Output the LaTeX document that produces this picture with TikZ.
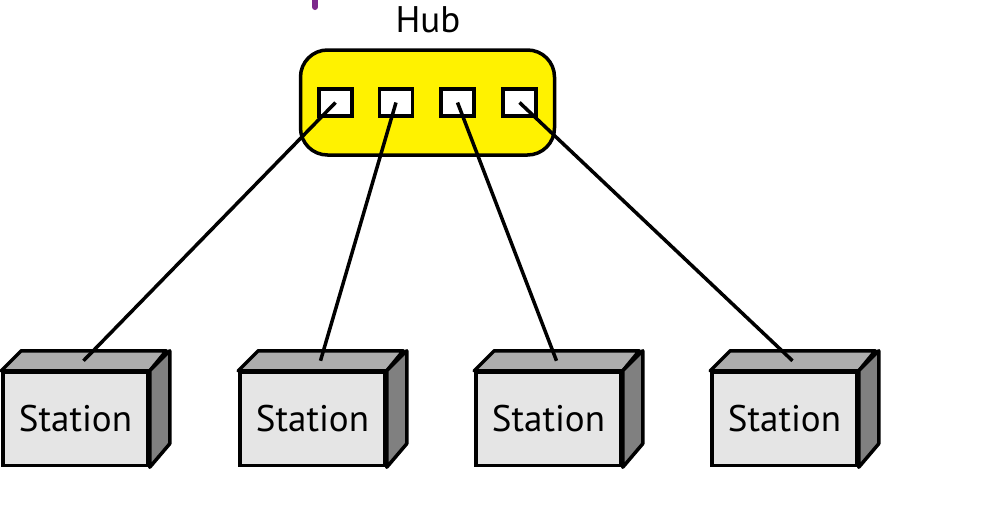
\documentclass[tikz,border=0pt]{standalone}
\usepackage{fontspec}
\setmainfont{PT Sans}
\usetikzlibrary{calc}
\begin{document}
\begin{tikzpicture}[x=1pt,y=-1pt,
  hubbox/.style={draw=black,line width=3.5pt,fill=yellow,rounded corners=27pt,minimum width=254pt,minimum height=105pt,inner sep=0pt},
  port/.style={draw=black,line width=3.5pt,fill=white,minimum width=33pt,minimum height=27pt,inner sep=0pt},
  front/.style={draw=black,line width=3.5pt,fill=black!10,minimum width=145pt,minimum height=93pt,inner sep=0pt,font=\fontsize{37}{40}\selectfont},
  topface/.style={draw=black,line width=3.5pt,fill=black!32,line join=round},
  sideface/.style={draw=black,line width=3.5pt,fill=black!50,line join=round},
  wire/.style={draw=black,line width=3.5pt},
  lbl/.style={font=\fontsize{37}{40}\selectfont,inner sep=0pt}
]
\useasboundingbox (0,0) rectangle (985,504);
\fill[white] (0,0) rectangle (985,504);
% purple mark
\draw[line width=6pt,line cap=round,draw={rgb,255:red,125;green,40;blue,140}] (315,-4) -- (315,7);
% hub
\node[lbl] (hublbl) at (428,20) {Hub};
\node[hubbox] (hub) at (427.5,102.5) {};
\foreach \i/\x in {1/335.5,2/396,3/457.5,4/519.5}{
  \node[port] (p\i) at (\x,102.5) {};
}
% stations
\foreach \i/\x in {1/75.5,2/312.5,3/548.5,4/784.5}{
  \node[front] (s\i) at (\x,419) {};
  \path[topface] (s\i.north west) -- ++(20,-20) -- ++(145,0) -- (s\i.north east) -- cycle;
  \path[sideface] (s\i.north east) -- ++(20,-20) -- ++(0,93) -- (s\i.south east) -- cycle;
  \node[front,draw=none,fill=none] at (s\i) {Station};
  \coordinate (t\i) at ($(s\i.north)+(8,-10)$);
}
% wires
\foreach \i in {1,2,3,4}{
  \path[wire] (p\i.center) -- (t\i);
}
\end{tikzpicture}
\end{document}
